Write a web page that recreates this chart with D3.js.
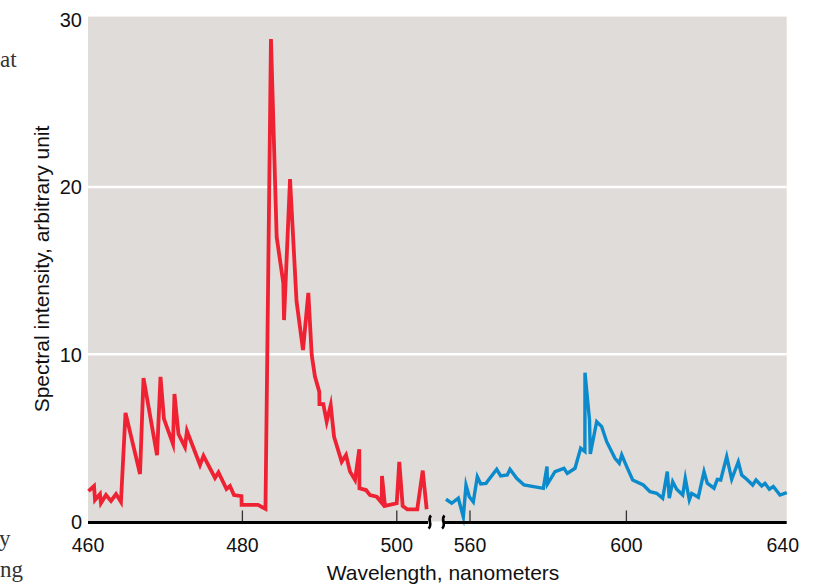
<!DOCTYPE html>
<html>
<head>
<meta charset="utf-8">
<script src="https://cdn.jsdelivr.net/npm/d3@7/dist/d3.min.js"></script>
<style>
  html, body { margin: 0; padding: 0; background: #ffffff; }
  svg { display: block; }
</style>
</head>
<body>
<svg id="chart" width="828" height="585"></svg>
<script>
// ---- data ----
const redWavelength = [460.06,460.78,460.91,461.55,461.68,462.33,462.98,463.63,464.27,464.86,466.74,467.19,468.94,469.39,469.84,471.01,471.2,471.72,472.56,472.82,474.51,474.96,476.45,476.9,477.94,478.39,478.91,479.88,479.9,482.02,482.99,483.7,484.44,485.3,485.39,486.17,487.01,487.85,488.54,488.98,489.4,489.96,489.98,490.48,490.92,491.44,491.87,492.86,493.42,493.94,494.59,495.14,495.16,496.01,496.53,497.4,498.04,498.08,498.47,499.99,500.32,500.76,501.36,502.65,503.36,503.87];
const redIntensity  = [1.82,2.12,1.29,1.64,1.10,1.58,1.23,1.64,1.17,6.49,2.84,8.58,3.97,8.64,6.13,4.63,7.62,5.23,4.45,5.41,3.38,3.92,2.60,2.93,1.94,2.12,1.58,1.52,0.99,0.99,0.75,28.84,17.0,14.26,12.04,20.47,13.18,10.25,13.66,9.95,8.66,7.76,7.02,7.02,5.97,6.96,5.07,3.57,3.97,2.98,2.48,4.32,1.98,1.88,1.58,1.48,1.12,2.72,0.93,1.09,3.57,0.93,0.73,0.73,3.04,0.73];

const blueWavelength = [553.86,555.32,557.01,558.29,558.98,559.82,560.84,561.87,562.74,564.09,566.83,567.85,569.54,570.23,571.94,573.81,578.75,579.69,579.82,581.74,584.04,584.88,586.85,588.31,589.38,589.41,590.56,590.77,592.4,593.68,594.96,597.08,598.18,598.8,600.08,601.61,604.32,606.04,607.75,609.28,610.46,610.97,611.84,612.86,614.4,615.06,616.09,616.7,618.39,619.85,620.69,622.4,623.25,624.12,625.65,626.93,628.62,629.49,630.77,632.3,633.15,634.6,635.45,636.55,637.57,639.28,641.0];
const blueIntensity  = [1.33,1.09,1.39,0.27,2.18,1.48,1.17,2.68,2.24,2.28,3.12,2.72,2.78,3.12,2.58,2.18,1.98,3.28,2.24,2.98,3.18,2.88,3.18,4.38,4.18,8.89,6.07,4.04,5.97,5.67,4.77,3.78,3.48,3.98,3.28,2.48,2.18,1.78,1.69,1.39,2.98,1.39,2.38,1.93,1.58,2.58,1.29,1.68,1.45,2.98,2.29,1.99,2.52,2.48,3.88,2.52,3.57,2.78,2.52,2.18,2.48,2.12,2.28,1.93,2.09,1.58,1.72];

const leftTickLabels  = [460, 480, 500];
const rightTickLabels = [560, 600, 640];
const leftTickMarks   = [480, 500];
const rightTickMarks  = [560, 600];
const yTickValues     = [0, 10, 20, 30];
const yGridValues     = [10, 20];
const leftDomain  = [460, 504.3];
const rightDomain = [553.1, 641];

// ---- layout ----
const svg = d3.select("#chart");
const xL = d3.scaleLinear().domain([460, 500]).range([88, 396.8]);
const xR = d3.scaleLinear().domain([560, 640]).range([470, 782.8]);
const y  = d3.scaleLinear().domain([0, 30]).range([521.5, 19.6]);
const plotLeft = xL(460), plotRight = xR(rightDomain[1]);
const axisY = 522.5;

// background
svg.append("rect")
  .attr("x", plotLeft).attr("y", y(30) - 3)
  .attr("width", plotRight - plotLeft).attr("height", y(0) - y(30) + 3)
  .attr("fill", "#e0dcd9");

// gridlines
svg.selectAll("line.grid").data(yGridValues).enter().append("line")
  .attr("class", "grid")
  .attr("x1", plotLeft).attr("x2", plotRight)
  .attr("y1", d => y(d)).attr("y2", d => y(d))
  .attr("stroke", "#ffffff").attr("stroke-width", 2.5);

// series
const lineL = d3.line().x(d => xL(d[0])).y(d => y(d[1]));
const lineR = d3.line().x(d => xR(d[0])).y(d => y(d[1]));
svg.append("path")
  .datum(d3.zip(redWavelength, redIntensity))
  .attr("d", lineL)
  .attr("fill", "none").attr("stroke", "#ee2233").attr("stroke-width", 3.8)
  .attr("stroke-linejoin", "miter").attr("stroke-miterlimit", 6);
svg.append("path")
  .datum(d3.zip(blueWavelength, blueIntensity))
  .attr("d", lineR)
  .attr("fill", "none").attr("stroke", "#0b8bcc").attr("stroke-width", 3.4)
  .attr("stroke-linejoin", "miter").attr("stroke-miterlimit", 6);

// tick marks
svg.selectAll("line.tl").data(leftTickMarks).enter().append("line")
  .attr("x1", d => xL(d)).attr("x2", d => xL(d))
  .attr("y1", axisY - 12).attr("y2", axisY)
  .attr("stroke", "#333").attr("stroke-width", 1.3);
svg.selectAll("line.tr").data(rightTickMarks).enter().append("line")
  .attr("x1", d => xR(d)).attr("x2", d => xR(d))
  .attr("y1", axisY - 12).attr("y2", axisY)
  .attr("stroke", "#333").attr("stroke-width", 1.3);

// axis line segments (broken)
svg.append("line")
  .attr("x1", plotLeft).attr("x2", xL(leftDomain[1]) - 2)
  .attr("y1", axisY).attr("y2", axisY)
  .attr("stroke", "#000").attr("stroke-width", 3.2);
svg.append("line")
  .attr("x1", xR(rightDomain[0]) + 1).attr("x2", plotRight)
  .attr("y1", axisY).attr("y2", axisY)
  .attr("stroke", "#000").attr("stroke-width", 3.2);

// break squiggles
[xL(leftDomain[1]) - 0.5, xR(rightDomain[0])].forEach(cx => {
  svg.append("path")
    .attr("d", `M${cx + 1.5},${axisY - 7} C${cx - 3},${axisY - 3} ${cx + 4},${axisY + 2} ${cx - 1},${axisY + 6}`)
    .attr("fill", "none").attr("stroke", "#000").attr("stroke-width", 2.6);
});

const font = "'Liberation Sans', Arial, Helvetica, sans-serif";

// x tick labels
svg.selectAll("text.xl").data(leftTickLabels).enter().append("text")
  .attr("x", d => xL(d)).attr("y", 552)
  .attr("text-anchor", "middle").attr("font-family", font).attr("font-size", 19.5)
  .attr("fill", "#111").text(d => d);
svg.selectAll("text.xr").data(rightTickLabels).enter().append("text")
  .attr("x", d => xR(d)).attr("y", 552)
  .attr("text-anchor", "middle").attr("font-family", font).attr("font-size", 19.5)
  .attr("fill", "#111").text(d => d);

// y tick labels
svg.selectAll("text.yt").data(yTickValues).enter().append("text")
  .attr("x", 82).attr("y", d => y(d) + 7.5)
  .attr("text-anchor", "end").attr("font-family", font).attr("font-size", 20)
  .attr("fill", "#111").text(d => d);

// axis titles
svg.append("text")
  .attr("x", 443).attr("y", 580)
  .attr("text-anchor", "middle").attr("font-family", font).attr("font-size", 21)
  .attr("fill", "#111").text("Wavelength, nanometers");
svg.append("text")
  .attr("transform", "translate(49,269) rotate(-90)")
  .attr("text-anchor", "middle").attr("font-family", font).attr("font-size", 21)
  .attr("fill", "#111").text("Spectral intensity, arbitrary unit");

// cropped page text fragments at the left edge
const serif = "'Liberation Serif', 'Times New Roman', serif";
[["at", 0, 66.5], ["y", -1, 546], ["ng", 0, 577]].forEach(([t, tx, ty]) => {
  svg.append("text").attr("x", tx).attr("y", ty)
    .attr("font-family", serif).attr("font-size", 23).attr("fill", "#333").text(t);
});
</script>
</body>
</html>
